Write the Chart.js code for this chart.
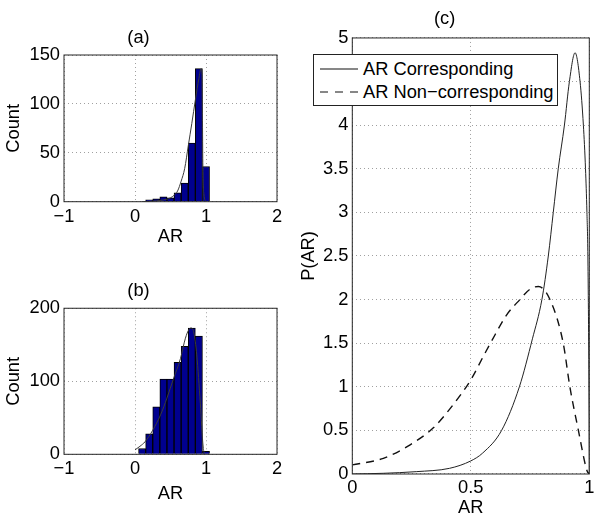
<!DOCTYPE html>
<html>
<head>
<meta charset="utf-8">
<script src="https://cdn.jsdelivr.net/npm/chart.js@4.4.1/dist/chart.umd.min.js"></script>
<style>
  html, body { margin: 0; padding: 0; background: #fff; }
  #wrap { position: relative; width: 600px; height: 522px; overflow: hidden; }
  .panel { position: absolute; }
  #legendC {
    position: absolute; left: 312.7px; top: 54.3px; width: 245.6px; height: 51.7px;
    box-sizing: border-box; border: 1px solid #222; background: #fff;
    padding: 2px 0 0 6.3px;
    font-family: 'Liberation Sans', Arial, sans-serif; font-size: 18.3px; color: #000;
  }
  #legendC .row { height: 23.3px; display: flex; align-items: center; white-space: nowrap; }
  #legendC svg { margin-right: 5px; flex: none; }
</style>
</head>
<body>
<div id="wrap">
  <div class="panel" style="left:0;top:0;width:300px;height:261px"><canvas id="chartA"></canvas></div>
  <div class="panel" style="left:0;top:261px;width:300px;height:261px"><canvas id="chartB"></canvas></div>
  <div class="panel" style="left:300px;top:0;width:300px;height:522px"><canvas id="chartC"></canvas></div>
  <div id="legendC"></div>
</div>
<script>
// (a) histogram of AR, corresponding
const binsA = [0.2, 0.3, 0.4, 0.5, 0.6, 0.7, 0.8, 0.9, 1.0];
const countsA = [2, 3, 5, 4, 9, 19, 60, 136, 36];
const fitAx = [0.1, 0.3, 0.4, 0.45, 0.5, 0.55, 0.6, 0.65, 0.7, 0.75, 0.8, 0.85, 0.9, 0.93, 0.945, 0.955, 0.97, 1.0];
const fitAy = [0, 0.8, 1.8, 2.6, 4, 6.5, 11, 21, 34, 57, 80, 104, 126, 136, 130, 40, 8, 0];

// (b) histogram of AR, non-corresponding
const binsB = [0.1, 0.2, 0.3, 0.4, 0.5, 0.6, 0.7, 0.8, 0.9, 1.0];
const countsB = [8, 28, 65, 103, 103, 126, 148, 173, 162, 4];
const fitBx = [0, 0.07, 0.14, 0.25, 0.36, 0.45, 0.54, 0.64, 0.71, 0.76, 0.79, 0.83, 0.87, 0.92, 0.96, 0.98];
const fitBy = [6, 11, 17, 33, 54, 77, 103, 131, 159, 171, 173, 166, 136, 70, 10, 1];

// (c) densities
const corrX = [0, 0.13, 0.27, 0.41, 0.5, 0.55, 0.63, 0.705, 0.76, 0.8, 0.827, 0.848, 0.869, 0.895, 0.916, 0.94, 0.961, 0.975, 0.984, 0.99, 0.994, 0.998, 1.0];
const corrY = [0, 0.008, 0.027, 0.065, 0.15, 0.24, 0.5, 1.0, 1.55, 2.0, 2.5, 3.0, 3.5, 4.0, 4.5, 4.83, 4.5, 4.0, 3.5, 3.0, 2.5, 1.2, 0];
const noncX = [0, 0.131, 0.244, 0.342, 0.427, 0.5, 0.553, 0.603, 0.65, 0.707, 0.75, 0.785, 0.834, 0.89, 0.918, 0.954, 0.99, 1.0];
const noncY = [0.104, 0.18, 0.335, 0.53, 0.8, 1.08, 1.35, 1.6, 1.82, 2.0, 2.12, 2.15, 2.0, 1.5, 1.0, 0.5, 0.04, 0];

// ticks
const xTicksHist = [-1, 0, 1, 2];
const yTicksA = [0, 50, 100, 150];
const yTicksB = [0, 100, 200];
const xTicksC = [0, 0.5, 1];
const yTicksC = [0, 0.5, 1, 1.5, 2, 2.5, 3, 3.5, 4, 4.5, 5];

const FS = 18.3;
Chart.defaults.font.family = "'Liberation Sans', Arial, sans-serif";
Chart.defaults.font.size = FS;
Chart.defaults.color = '#000';

const frame = {
    id: 'frame',
    afterDatasetsDraw(chart) {
        const { ctx, chartArea: a } = chart;
        ctx.save();
        ctx.strokeStyle = '#262626';
        ctx.lineWidth = 1;
        ctx.strokeRect(a.left, a.top, a.right - a.left, a.bottom - a.top);
        ctx.restore();
    }
};

const pts = (xs, ys) => xs.map((x, i) => ({ x: x, y: ys[i] }));
const setTicks = arr => scale => { scale.ticks = arr.map(v => ({ value: v })); };
const fmt = v => (v < 0 ? '\u2212' + (-v) : String(v));

const gridOpts = { color: '#a0a0a0', lineWidth: 1, drawTicks: false, offset: false };
const borderOpts = { display: false, dash: [1, 3] };

function axisX(min, max, ticks, h, tickPad, titlePad) {
    return {
        type: 'linear', min: min, max: max, offset: false,
        afterBuildTicks: setTicks(ticks),
        afterFit: s => { s.height = h; },
        grid: gridOpts, border: borderOpts,
        ticks: { padding: tickPad, callback: fmt, maxRotation: 0, autoSkip: false },
        title: { display: true, text: 'AR', padding: { top: 0, bottom: titlePad } }
    };
}

function axisY(min, max, ticks, w, label, titlePad) {
    return {
        min: min, max: max,
        afterBuildTicks: setTicks(ticks),
        afterFit: s => { s.width = w; },
        grid: gridOpts, border: borderOpts,
        ticks: { padding: 4, callback: fmt, autoSkip: false },
        title: { display: true, text: label, padding: { top: titlePad, bottom: 0 } }
    };
}

function histChart(id, title, bins, counts, fitX, fitY, yTicks, yMax, t) {
    return new Chart(document.getElementById(id), {
        type: 'bar',
        data: {
            datasets: [
                {
                    type: 'line',
                    data: pts(fitX, fitY),
                    borderColor: '#3a3a3a',
                    borderWidth: 1,
                    pointRadius: 0,
                    cubicInterpolationMode: 'monotone',
                    order: 0
                },
                {
                    data: pts(bins, counts),
                    backgroundColor: '#00008f',
                    borderColor: '#000',
                    borderWidth: 1,
                    barPercentage: 1,
                    categoryPercentage: 1,
                    order: 1
                }
            ]
        },
        options: {
            responsive: true,
            maintainAspectRatio: false,
            animation: false,
            layout: { padding: { left: 0, right: 23, top: 0, bottom: 0 } },
            plugins: {
                legend: { display: false },
                tooltip: { enabled: false },
                title: { display: true, text: title, font: { weight: 'normal', size: FS }, padding: { top: t.titleTop, bottom: t.titleBottom } }
            },
            scales: {
                x: axisX(-1, 2, xTicksHist, t.xh, 3.8, t.arPad),
                y: axisY(0, yMax, yTicks, 64, 'Count', 3)
            }
        },
        plugins: [frame]
    });
}

histChart('chartA', '(a)', binsA, countsA, fitAx, fitAy, yTicksA, 150,
    { titleTop: 27, titleBottom: 6.04, xh: 59.3, arPad: 13 });
histChart('chartB', '(b)', binsB, countsB, fitBx, fitBy, yTicksB, 200,
    { titleTop: 19, titleBottom: 6.3, xh: 67.7, arPad: 17 });

const chartC = new Chart(document.getElementById('chartC'), {
    type: 'line',
    data: {
        datasets: [
            {
                label: 'AR Corresponding',
                data: pts(corrX, corrY),
                borderColor: '#222',
                borderWidth: 1,
                pointRadius: 0,
                cubicInterpolationMode: 'monotone'
            },
            {
                label: 'AR Non\u2212corresponding',
                data: pts(noncX, noncY),
                borderColor: '#111',
                borderWidth: 1.4,
                borderDash: [8, 6],
                pointRadius: 0,
                cubicInterpolationMode: 'monotone'
            }
        ]
    },
    options: {
        responsive: true,
        maintainAspectRatio: false,
        animation: false,
        layout: { padding: { left: 0, right: 10.7, top: 0, bottom: 0 } },
        plugins: {
            legend: { display: false },
            tooltip: { enabled: false },
            title: { display: true, text: '(c)', font: { weight: 'normal', size: FS }, padding: { top: 7.5, bottom: 8.5 } }
        },
        scales: {
            x: axisX(0, 1, xTicksC, 48, 2.5, 3.5),
            y: axisY(0, 5, yTicksC, 52.3, 'P(AR)', -2.5)
        }
    },
    plugins: [frame]
});

// legend box, built from the datasets
const legendEl = document.getElementById('legendC');
chartC.data.datasets.forEach(ds => {
    const row = document.createElement('div');
    row.className = 'row';
    const dash = ds.borderDash ? '8 7' : 'none';
    row.innerHTML = '<svg width="38" height="10"><line x1="0" y1="5" x2="38" y2="5" stroke="#111" stroke-width="1.1" stroke-dasharray="' + dash + '"/></svg><span>' + ds.label + '</span>';
    legendEl.appendChild(row);
});
</script>
</body>
</html>
